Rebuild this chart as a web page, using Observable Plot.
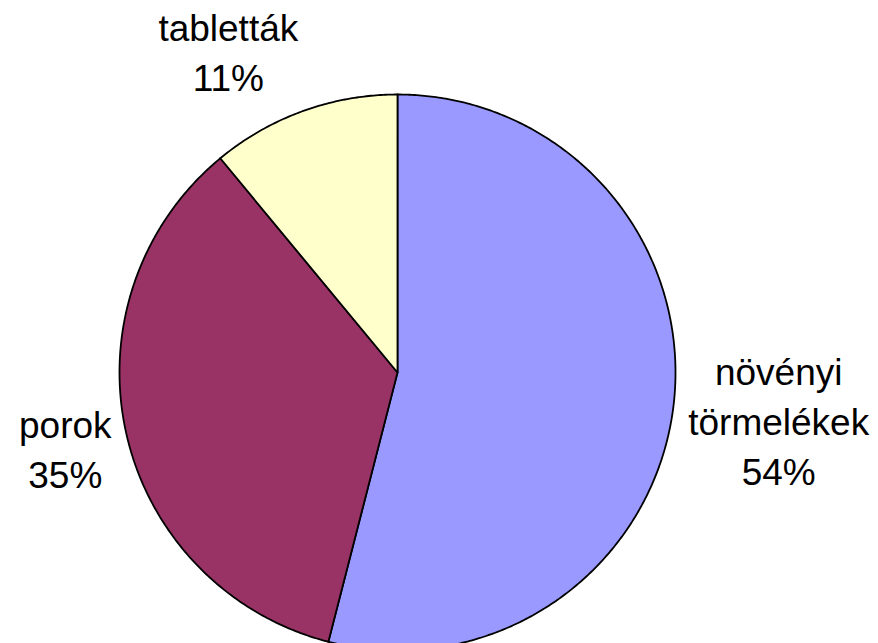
<!DOCTYPE html>
<html>
<head>
<meta charset="utf-8">
<script src="https://cdn.jsdelivr.net/npm/d3@7"></script>
<script src="https://cdn.jsdelivr.net/npm/@observablehq/plot@0.6"></script>
<style>
  html, body { margin: 0; padding: 0; background: #ffffff; }
  #chart svg { display: block; }
</style>
</head>
<body>
<div id="chart"></div>
<script>
// Data
const categories = ["növényi törmelékek", "porok", "tabletták"];
const labelLines = [["növényi", "törmelékek"], ["porok"], ["tabletták"]];
const shares = [54, 35, 11];
const colors = ["#9999FF", "#993366", "#FFFFCC"];

// Layout
const W = 878, H = 643;
const cx = 397, cy = 372, R = 278;
const fontSize = 37;
const lineHeightPx = 50;
const labelGap = 15;
const fontFamily = "'Liberation Sans', Arial, sans-serif";

const pie = d3.pie().sort(null).value(d => d.value);
const arcs = pie(categories.map((c, i) => ({cat: c, value: shares[i], lines: labelLines[i]})));

// Slice polygons in unit coordinates (y up), angles clockwise from 12 o'clock
const slicePts = [];
arcs.forEach(a => {
  const cat = a.data.cat;
  slicePts.push({cat, x: 0, y: 0});
  const n = Math.max(2, Math.ceil((a.endAngle - a.startAngle) / (Math.PI / 360)));
  for (let k = 0; k <= n; k++) {
    const t = a.startAngle + (a.endAngle - a.startAngle) * k / n;
    slicePts.push({cat, x: Math.sin(t), y: Math.cos(t)});
  }
  slicePts.push({cat, x: 0, y: 0});
});

// Label placement (Excel-like: box touching an anchor just outside the pie)
const ctx = document.createElement("canvas").getContext("2d");
ctx.font = `${fontSize}px ${fontFamily}`;
const labels = arcs.map(a => {
  const mid = (a.startAngle + a.endAngle) / 2;
  const s = Math.sin(mid), c = Math.cos(mid);
  const lines = [...a.data.lines, `${a.data.value}%`];
  const w = d3.max(lines, l => ctx.measureText(l).width);
  const h = lines.length * lineHeightPx;
  const ra = (R + labelGap) / R;
  const ax = s * ra, ay = c * ra;
  return {
    text: lines.join("\n"),
    x: ax + Math.sign(s) * (w / 2) / R,
    y: ay + c * (h / 2) / R
  };
});

const chart = Plot.plot({
  width: W,
  height: H,
  margin: 0,
  x: {domain: [-1, 1], range: [cx - R, cx + R], axis: null},
  y: {domain: [-1, 1], range: [cy + R, cy - R], axis: null},
  color: {domain: categories, range: colors},
  style: {background: "#ffffff", fontFamily},
  marks: [
    Plot.line(slicePts, {
      x: "x", y: "y", z: "cat", fill: "cat",
      stroke: "#000000", strokeWidth: 1.8, strokeLinejoin: "round"
    }),
    Plot.text(labels, {
      x: "x", y: "y", text: "text",
      fontSize, lineHeight: lineHeightPx / fontSize,
      fill: "#000000", textAnchor: "middle", fontFamily
    })
  ]
});
document.getElementById("chart").appendChild(chart);
</script>
</body>
</html>
